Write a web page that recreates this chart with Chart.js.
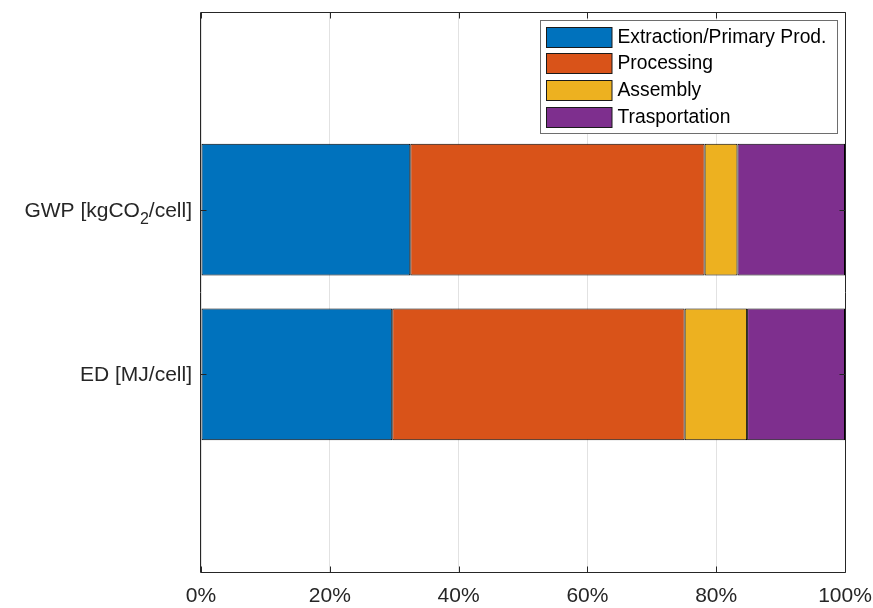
<!DOCTYPE html>
<html>
<head>
<meta charset="utf-8">
<script src="https://cdn.jsdelivr.net/npm/chart.js@4/dist/chart.umd.min.js"></script>
<style>
  html, body { margin: 0; padding: 0; background: #fff; }
  #wrap { width: 873px; height: 608px; }
</style>
</head>
<body>
<div id="wrap"><canvas id="c" width="873" height="608"></canvas></div>
<script>
// Impact categories ("_x" marks a subscript character) and their axis positions
const categories = ['GWP [kgCO_2/cell]', 'ED [MJ/cell]'];
const categoryPositions = [2, 1];

// Share of each life-cycle stage, in percent
const seriesNames = ['Extraction/Primary Prod.', 'Processing', 'Assembly', 'Trasportation'];
const extraction = [32.5, 29.7];
const processing = [45.7, 45.4];
const assembly = [5.1, 9.7];
const transportation = [16.7, 15.2];

const xTickValues = [0, 20, 40, 60, 80, 100];
const seriesColors = ['#0072BD', '#D95319', '#EDB120', '#7E2F8E'];

const FONT = '"Liberation Sans", Arial, Helvetica, sans-serif';
const AXIS_COLOR = '#262626';
const TICK_SIZE = 21;
const SUB_SIZE = 16;

const seriesValues = [extraction, processing, assembly, transportation];

const datasets = seriesNames.map((name, i) => ({
  label: name,
  data: categoryPositions.map((pos, j) => ({ y: pos, x: seriesValues[i][j] })),
  backgroundColor: seriesColors[i],
  borderColor: '#000000',
  borderWidth: 1,
  borderSkipped: false,
  categoryPercentage: 1.0,
  barPercentage: 0.8
}));

// Split a label into normal and subscript runs
function labelRuns(text) {
  const runs = [];
  let buf = '';
  for (let i = 0; i < text.length; i++) {
    if (text[i] === '_' && i + 1 < text.length) {
      if (buf) { runs.push({ t: buf, sub: false }); buf = ''; }
      runs.push({ t: text[i + 1], sub: true });
      i++;
    } else {
      buf += text[i];
    }
  }
  if (buf) runs.push({ t: buf, sub: false });
  return runs;
}

// Category labels on the vertical axis, right-aligned, with subscripts
const categoryLabelPlugin = {
  id: 'categoryLabels',
  afterDraw(chart) {
    const { ctx, chartArea: a, scales } = chart;
    ctx.save();
    ctx.fillStyle = AXIS_COLOR;
    ctx.textBaseline = 'alphabetic';
    ctx.textAlign = 'left';
    categoryPositions.forEach((pos, k) => {
      const runs = labelRuns(categories[k]);
      let total = 0;
      runs.forEach(r => {
        ctx.font = (r.sub ? SUB_SIZE : TICK_SIZE) + 'px ' + FONT;
        r.w = ctx.measureText(r.t).width;
        total += r.w;
      });
      const baseline = scales.y.getPixelForValue(pos) + 7;
      let x = a.left - 9 - total;
      runs.forEach(r => {
        ctx.font = (r.sub ? SUB_SIZE : TICK_SIZE) + 'px ' + FONT;
        ctx.fillText(r.t, x, r.sub ? baseline + 7 : baseline);
        x += r.w;
      });
    });
    ctx.restore();
  }
};

// Box around the axes with short inward tick marks on all four sides
const framePlugin = {
  id: 'frame',
  afterDatasetsDraw(chart) {
    const { ctx, chartArea: a, scales } = chart;
    const L = a.left - 0.5, R = a.right + 0.5, T = a.top + 0.5, B = a.bottom + 0.5;
    ctx.save();
    ctx.strokeStyle = AXIS_COLOR;
    ctx.lineWidth = 1;
    ctx.beginPath();
    ctx.rect(L, T, R - L, B - T);
    const tl = 6;
    xTickValues.forEach(v => {
      const px = Math.round(scales.x.getPixelForValue(v)) + 0.5;
      ctx.moveTo(px, B); ctx.lineTo(px, B - tl);
      ctx.moveTo(px, T); ctx.lineTo(px, T + tl);
    });
    categoryPositions.forEach(v => {
      const py = Math.round(scales.y.getPixelForValue(v)) + 0.5;
      ctx.moveTo(L, py); ctx.lineTo(L + tl, py);
      ctx.moveTo(R, py); ctx.lineTo(R - tl, py);
    });
    ctx.stroke();
    ctx.restore();
  }
};

// Legend box in the upper right corner of the plot
const legendPlugin = {
  id: 'boxLegend',
  afterDraw(chart) {
    const { ctx } = chart;
    const bx = 540.5, by = 20.5, bw = 297, bh = 113;
    ctx.save();
    ctx.fillStyle = '#ffffff';
    ctx.fillRect(bx, by, bw, bh);
    ctx.strokeStyle = '#6e6e6e';
    ctx.lineWidth = 1;
    ctx.strokeRect(bx, by, bw, bh);
    ctx.font = '19.3px ' + FONT;
    ctx.textBaseline = 'middle';
    ctx.textAlign = 'left';
    chart.data.datasets.forEach((ds, i) => {
      const sy = Math.round(26.7 + i * 26.67) + 0.5;
      ctx.fillStyle = ds.backgroundColor;
      ctx.fillRect(546.5, sy, 65.5, 20);
      ctx.strokeStyle = '#1a1a1a';
      ctx.strokeRect(546.5, sy, 65.5, 20);
      ctx.fillStyle = '#000000';
      ctx.fillText(ds.label, 617.5, sy + 10.5);
    });
    ctx.restore();
  }
};

new Chart(document.getElementById('c'), {
  type: 'bar',
  data: { datasets },
  options: {
    indexAxis: 'y',
    responsive: false,
    animation: false,
    devicePixelRatio: 1,
    layout: { padding: { left: 0, right: 28, top: 12, bottom: 0 } },
    plugins: { legend: { display: false }, tooltip: { enabled: false } },
    scales: {
      x: {
        type: 'linear',
        stacked: true,
        min: 0,
        max: 100,
        offset: false,
        afterBuildTicks: s => { s.ticks = xTickValues.map(v => ({ value: v })); },
        afterFit: s => { s.height = 36; s.paddingLeft = 0; s.paddingRight = 0; },
        grid: { color: '#e2e2e2', lineWidth: 1, drawTicks: false, offset: false },
        border: { display: false },
        ticks: {
          padding: 12,
          color: AXIS_COLOR,
          font: { family: FONT, size: TICK_SIZE },
          maxRotation: 0,
          autoSkip: false,
          callback: v => v + '%'
        }
      },
      y: {
        type: 'linear',
        stacked: true,
        min: -0.2,
        max: 3.2,
        offset: false,
        afterBuildTicks: s => { s.ticks = categoryPositions.map(v => ({ value: v })); },
        afterFit: s => { s.width = 201; s.paddingTop = 0; s.paddingBottom = 0; },
        grid: { display: false, drawTicks: false, offset: false },
        border: { display: false },
        ticks: { display: false }
      }
    }
  },
  plugins: [framePlugin, legendPlugin, categoryLabelPlugin]
});
</script>
</body>
</html>
